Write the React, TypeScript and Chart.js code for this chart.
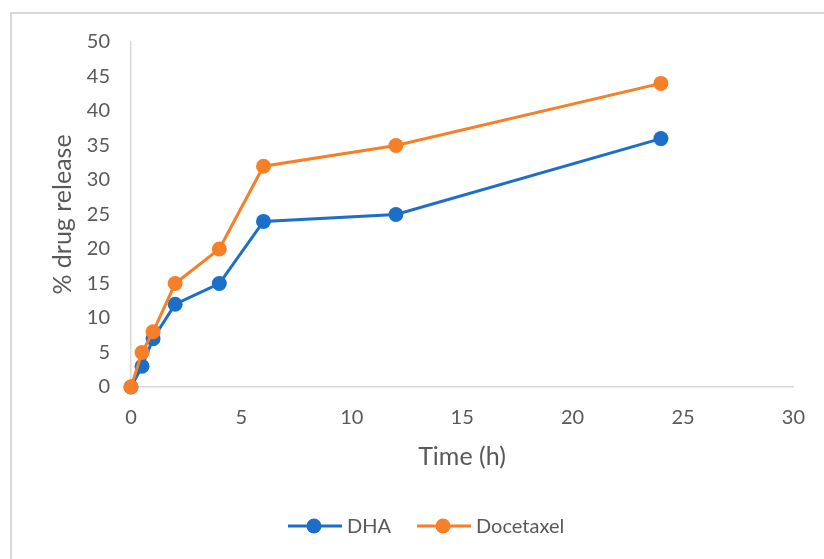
import React, { useEffect, useRef } from "react";
import { Chart, registerables } from "chart.js";

Chart.register(...registerables);

const hours = [0, 0.5, 1, 2, 4, 6, 12, 24];
const dhaRelease = [0, 3, 7, 12, 15, 24, 25, 36];
const docetaxelRelease = [0, 5, 8, 15, 20, 32, 35, 44];
const seriesNames = ["DHA", "Docetaxel"];
const seriesColors = ["#1c6fc8", "#f67f27"];
const xTitle = "Time (h)";
const yTitle = "% drug release";

const FONT = "Lato, 'Open Sans', sans-serif";
const TEXT = "#595959";
const AXIS = "#d9d9d9";

// Axis titles and the bottom legend (line + marker samples), drawn on the canvas.
const decorations = {
  id: "decorations",
  afterDraw(chart: any) {
    const ctx = chart.ctx;
    const area = chart.chartArea;
    ctx.save();
    ctx.fillStyle = TEXT;
    ctx.font = `25px ${FONT}`;
    ctx.textAlign = "center";
    ctx.textBaseline = "middle";
    ctx.fillText(xTitle, 462, 457);
    ctx.save();
    ctx.translate(63, (area.top + area.bottom) / 2);
    ctx.rotate(-Math.PI / 2);
    ctx.fillText(yTitle, 0, 0);
    ctx.restore();

    const y = 526;
    let x = 288;
    ctx.font = `20px ${FONT}`;
    ctx.textAlign = "left";
    chart.data.datasets.forEach((ds: any) => {
      ctx.strokeStyle = ds.borderColor;
      ctx.lineWidth = 3;
      ctx.beginPath();
      ctx.moveTo(x, y);
      ctx.lineTo(x + 54, y);
      ctx.stroke();
      ctx.fillStyle = ds.backgroundColor;
      ctx.beginPath();
      ctx.arc(x + 26, y, 7.5, 0, Math.PI * 2);
      ctx.fill();
      ctx.fillStyle = TEXT;
      ctx.fillText(ds.label, x + 59, y + 1);
      x += 59 + ctx.measureText(ds.label).width + 26;
    });
    ctx.restore();
  },
};

export default function App() {
  const ref = useRef<HTMLCanvasElement>(null);

  useEffect(() => {
    if (!ref.current) return;
    const toPoints = (vals: number[]) => hours.map((h, i) => ({ x: h, y: vals[i] }));
    const chart = new Chart(ref.current, {
      type: "line",
      data: {
        datasets: [dhaRelease, docetaxelRelease].map((vals, i) => ({
          label: seriesNames[i],
          data: toPoints(vals),
          borderColor: seriesColors[i],
          backgroundColor: seriesColors[i],
          borderWidth: 3,
          pointRadius: 7.5,
          pointBorderWidth: 0,
          tension: 0,
          clip: false,
          // later series sits on top
          order: 1 - i,
        })),
      },
      options: {
        animation: false,
        responsive: false,
        layout: { padding: { top: 42, right: 18, left: 0, bottom: 0 } },
        plugins: { legend: { display: false }, tooltip: { enabled: false } },
        scales: {
          x: {
            type: "linear",
            min: 0,
            max: 30,
            ticks: { stepSize: 5, color: TEXT, font: { family: FONT, size: 20 }, padding: 19 },
            grid: { display: false, drawTicks: false },
            border: { color: AXIS, width: 1.5 },
            afterFit: (s: any) => {
              s.height = 559 - 387;
            },
          },
          y: {
            min: 0,
            max: 50,
            ticks: { stepSize: 5, color: TEXT, font: { family: FONT, size: 20 }, padding: 21 },
            grid: { display: false, drawTicks: false },
            border: { color: AXIS, width: 1.5 },
            afterFit: (s: any) => {
              s.width = 131;
            },
          },
        },
      },
      plugins: [decorations],
    });
    return () => chart.destroy();
  }, []);

  return (
    <div style={{ position: "fixed", left: 0, top: 0, width: 824, height: 559, overflow: "hidden", background: "#fff" }}>
      <div
        style={{
          position: "absolute",
          left: 10,
          top: 12,
          width: 830,
          height: 570,
          border: `2px solid ${AXIS}`,
          boxSizing: "border-box",
        }}
      />
      <canvas ref={ref} width={824} height={559} style={{ position: "absolute", left: 0, top: 0 }} />
    </div>
  );
}
